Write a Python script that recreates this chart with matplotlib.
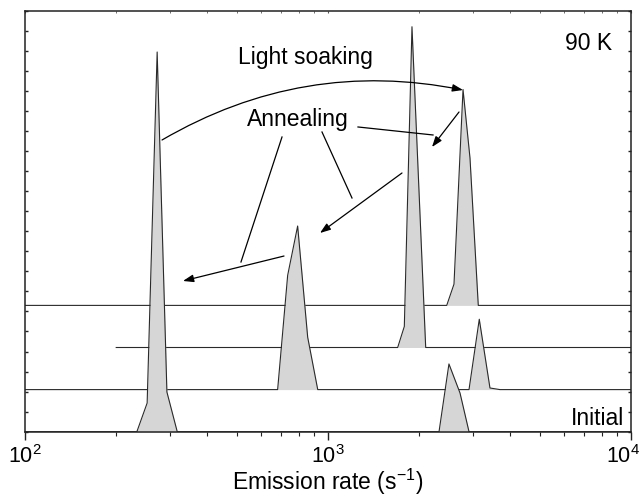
import numpy as np
import matplotlib.pyplot as plt
from matplotlib.transforms import ScaledTranslation

plt.rcParams['font.family'] = ['Liberation Sans', 'DejaVu Sans']
plt.rcParams['mathtext.fontset'] = 'custom'
plt.rcParams['mathtext.rm'] = 'Liberation Sans'
plt.rcParams['mathtext.it'] = 'Liberation Sans'

# spectra (emission rate in s^-1, amplitude in arb. units)
freq_initial = [100, 234, 253, 273, 294, 318, 2325, 2507, 2727, 2920, 10000]
amp_initial = [0, 0, 1.43, 18.94, 1.98, 0, 0, 3.38, 1.93, 0, 0]

freq_anneal2 = [100, 682, 736, 794, 857, 925, 2920, 3157, 3424, 3696, 10000]
amp_anneal2 = [0, 0, 5.70, 8.16, 2.61, 0, 0, 3.51, 0.08, 0, 0]

freq_anneal1 = [200, 1698, 1786, 1893, 2101, 10000]
amp_anneal1 = [0, 0, 1.05, 16.0, 0, 0]

freq_soaked = [100, 2465, 2605, 2790, 2942, 3133, 10000]
amp_soaked = [0, 0, 1.06, 10.77, 7.35, 0, 0]

# bottom to top
spectra = [(freq_initial, amp_initial), (freq_anneal2, amp_anneal2),
           (freq_anneal1, amp_anneal1), (freq_soaked, amp_soaked)]
offset_step = 2.1

fig = plt.figure(figsize=(6.42, 4.98), dpi=100)
ax = fig.add_axes([25 / 642, 1 - 431.7 / 498, 606 / 642, 421 / 498])

line_col = '#2a2a2a'
fill_col = '#d6d6d6'

# higher peaks of the lower spectra hide the baselines above them
for i, (f, a) in enumerate(spectra):
    off = i * offset_step
    base = np.full(len(f), off)
    top = off + np.array(a)
    z = 10 - i
    ax.fill_between(f, base, top, color=fill_col, linewidth=0, zorder=z)
    ax.plot(f, top, color=line_col, linewidth=0.8, zorder=z)

ax.set_xscale('log')
ax.set_xlim(100, 10000)
ax.set_ylim(0, 21)
ax.set_yticks(np.arange(0, 22, 1))
ax.set_yticklabels([])

for sp in ax.spines.values():
    sp.set_linewidth(1.1)
    sp.set_color('#222222')
    sp.set_zorder(20)

ax.tick_params(axis='x', which='major', direction='out', length=6, width=1,
               labelsize=15.5, pad=3.5, color='#222222')
ax.tick_params(axis='x', which='minor', direction='out', length=3, width=0.8,
               color='#222222')
ax.tick_params(axis='y', which='major', direction='in', length=2.5, width=1,
               left=True, right=True, color='#222222')

top_ax = ax.secondary_xaxis('top')
top_ax.tick_params(axis='x', which='both', direction='in', length=1.5,
                   labeltop=False, color='#555555')
top_ax.spines['top'].set_visible(False)

ax.set_xlabel('Emission rate (s$^{\\mathregular{-1}}$)', fontsize=16.5,
              labelpad=-1)

# last tick label is pulled in so it stays inside the figure
fig.canvas.draw()
last = ax.get_xticklabels()[-1]
for lab in ax.get_xticklabels():
    if '4' in lab.get_text():
        last = lab
last.set_transform(last.get_transform() + ScaledTranslation(-8 / 100, 0, fig.dpi_scale_trans))

tkw = dict(transform=ax.transAxes, fontsize=16.5, zorder=30)
ax.text(0.9686, 0.9067, '90 K', ha='right', va='baseline', **tkw)
ax.text(0.9884, 0.0152, 'Initial', ha='right', va='baseline', **tkw)
ax.text(0.4620, 0.8734, 'Light soaking', ha='center', va='baseline', **tkw)
ax.text(0.4505, 0.7261, 'Annealing', ha='center', va='baseline', **tkw)

# light soaking moves the 270 peak to ~2900
ax.annotate('', xy=(0.7228, 0.8116), xytext=(0.2261, 0.6929),
            xycoords='axes fraction', textcoords='axes fraction',
            arrowprops=dict(arrowstyle='-|>,head_length=0.45,head_width=0.16',
                            mutation_scale=14, color='black', lw=0.9,
                            shrinkA=0, shrinkB=0,
                            connectionstyle='arc3,rad=-0.19'), zorder=30)

# annealing: leader lines and arrows
leaders = [((0.4241, 0.7000), (0.3564, 0.4031)),
           ((0.4901, 0.7119), (0.5396, 0.5551)),
           ((0.5495, 0.7238), (0.6733, 0.7048))]
for p0, p1 in leaders:
    ax.plot([p0[0], p1[0]], [p0[1], p1[1]], color='black', lw=0.9,
            transform=ax.transAxes, zorder=30)

arrows = [((0.4274, 0.4173), (0.2607, 0.3580)),
          ((0.6221, 0.6145), (0.4868, 0.4720)),
          ((0.7162, 0.7594), (0.6716, 0.6762))]
for p0, p1 in arrows:
    ax.annotate('', xy=p1, xytext=p0,
                xycoords='axes fraction', textcoords='axes fraction',
                arrowprops=dict(arrowstyle='-|>,head_length=0.45,head_width=0.16',
                                mutation_scale=14, color='black', lw=0.9,
                                shrinkA=0, shrinkB=0), zorder=30)

fig.savefig('out.png', dpi=100)
